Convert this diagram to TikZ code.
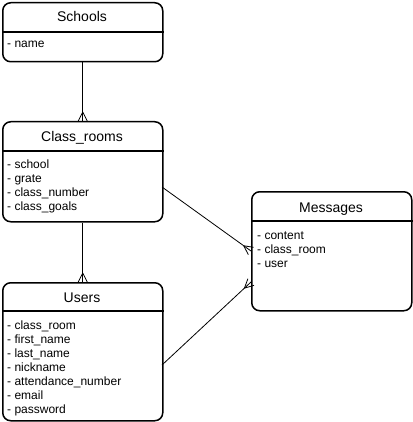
\documentclass[tikz,border=0pt]{standalone}
\usepackage{fontspec}
\setmainfont{Liberation Sans}
\usetikzlibrary{decorations.markings}
\tikzset{
  entity/.style={draw, line width=1.5pt, rounded corners=8pt, anchor=north west, inner sep=0pt, minimum width=160pt},
  title/.style={anchor=base, font=\fontsize{14}{16}\selectfont, inner sep=0pt},
  attr/.style={anchor=base west, font=\fontsize{12}{14}\selectfont, inner sep=0pt},
  sepline/.style={line width=1.5pt},
  rel/.style={line width=0.8pt, postaction={decorate},
    decoration={markings, mark=at position 1 with {\draw[line width=0.8pt] (-9pt,0pt) -- (0pt,4.5pt) (-9pt,0pt) -- (0pt,-4.5pt);}}},
}
\begin{document}
\begin{tikzpicture}[x=1pt, y=-1pt]
\useasboundingbox (0,0) rectangle (412,422);
% Schools
\node[entity, minimum height=59pt] (schools) at (2,2) {};
\draw[sepline] ([yshift=-30pt]schools.north west) -- ([yshift=-30pt]schools.north east);
\node[title] (schoolsT) at (82,22) {Schools};
\node[attr] (s1) at (7,48) {- name};
% Class_rooms
\node[entity, minimum height=100pt] (classrooms) at (2,121) {};
\draw[sepline] ([yshift=-30pt]classrooms.north west) -- ([yshift=-30pt]classrooms.north east);
\node[title] (classroomsT) at (82,142) {Class\_rooms};
\node[attr] (c1) at (7,168) {- school};
\node[attr] (c2) at (7,182) {- grate};
\node[attr] (c3) at (7,196) {- class\_number};
\node[attr] (c4) at (7,210) {- class\_goals};
% Users
\node[entity, minimum height=138pt] (users) at (2,282) {};
\draw[sepline] ([yshift=-29pt]users.north west) -- ([yshift=-29pt]users.north east);
\node[title] (usersT) at (82,302) {Users};
\node[attr] (u1) at (7,329) {- class\_room};
\node[attr] (u2) at (7,343) {- first\_name};
\node[attr] (u3) at (7,357) {- last\_name};
\node[attr] (u4) at (7,371) {- nickname};
\node[attr] (u5) at (7,385) {- attendance\_number};
\node[attr] (u6) at (7,399) {- email};
\node[attr] (u7) at (7,413) {- password};
% Messages
\node[entity, minimum height=119pt] (messages) at (251,191) {};
\draw[sepline] ([yshift=-30pt]messages.north west) -- ([yshift=-30pt]messages.north east);
\node[title] (messagesT) at (331,212) {Messages};
\node[attr] (m1) at (257,239) {- content};
\node[attr] (m2) at (257,253) {- class\_room};
\node[attr] (m3) at (257,267) {- user};
% connector end points
\coordinate (crA) at (162,187);
\coordinate (msA) at (251,251);
\coordinate (usA) at (162,365);
\coordinate (msB) at (251,282);
% connectors
\draw[rel] (schools.south) -- (classrooms.north);
\draw[rel] (classrooms.south) -- (users.north);
\draw[rel] (crA) -- (msA);
\draw[rel] (usA) -- (msB);
\end{tikzpicture}
\end{document}
